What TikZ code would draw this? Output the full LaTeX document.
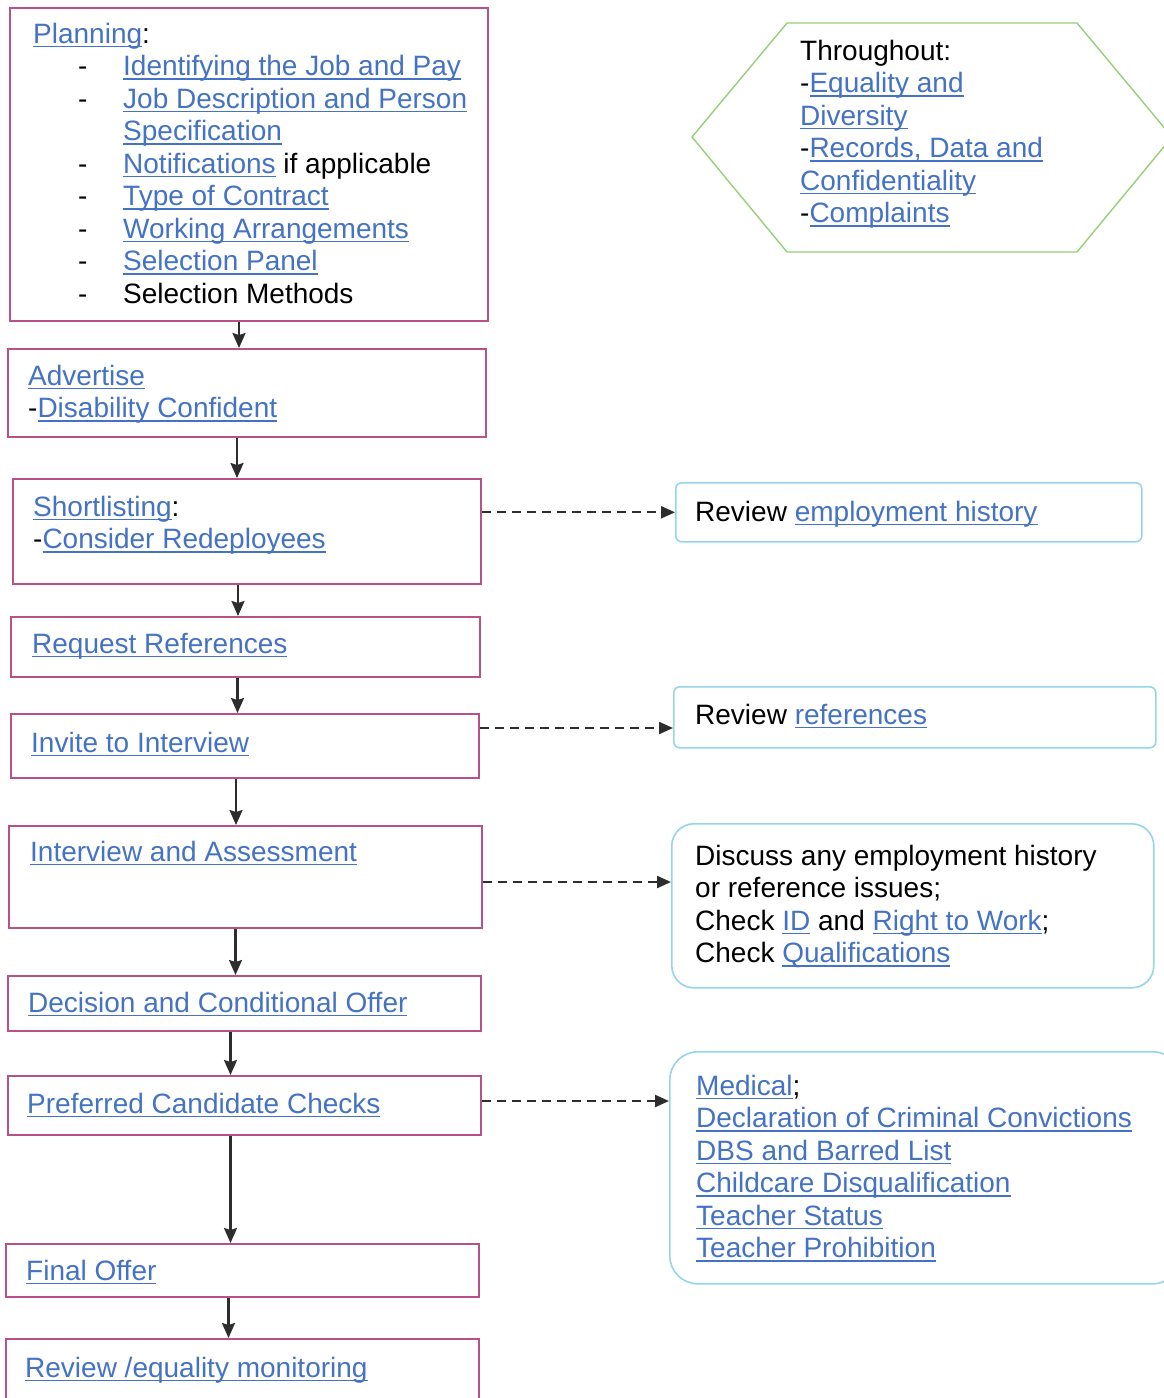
\documentclass[tikz,border=0pt]{standalone}
\usepackage{fontspec}
\setmainfont{Liberation Sans}
\usetikzlibrary{arrows.meta,positioning}

\definecolor{linkblue}{RGB}{68,114,196}
\definecolor{boxpink}{RGB}{185,80,135}
\definecolor{sideblue}{RGB}{150,212,236}
\definecolor{hexgreen}{RGB}{150,208,120}
\definecolor{arrowgrey}{RGB}{45,45,45}

\newcommand\weblink[1]{{\color{linkblue}\setbox0\hbox{#1}\rlap{\rule[-4pt]{\wd0}{1.5pt}}\box0}}
\newcommand\dashitem{\hspace*{45pt}\makebox[45pt][l]{-}}

\tikzset{
  stepbox/.style={draw=boxpink, line width=2pt, inner sep=0pt, anchor=north west},
  sidebox/.style={draw=sideblue, line width=1.6pt, inner sep=0pt, anchor=north west},
  txt/.style={inner sep=0pt, anchor=base west, align=left, font=\fontsize{28}{32.5}\selectfont},
  flow/.style={-{Stealth[length=15pt,width=13pt,inset=2pt]}, line width=2.2pt, draw=arrowgrey},
  dashflow/.style={-{Triangle[length=14pt,width=12pt]}, line width=2.2pt, draw=arrowgrey, dash pattern=on 9pt off 6pt},
}

\begin{document}
\begin{tikzpicture}[x=1pt,y=-1pt]
\clip (0,0) rectangle (1164,1398);
\fill[white] (0,0) rectangle (1164,1398);

% left column
\node[stepbox, minimum width=478pt, minimum height=313pt] (plan) at (9,7) {};
\node[stepbox, minimum width=478pt, minimum height=88pt] (advert) at (7,348) {};
\node[stepbox, minimum width=468pt, minimum height=105pt] (short) at (12,478) {};
\node[stepbox, minimum width=469pt, minimum height=60pt] (reqref) at (10,616) {};
\node[stepbox, minimum width=468pt, minimum height=64pt] (invite) at (10,713) {};
\node[stepbox, minimum width=473pt, minimum height=102pt] (interview) at (8,825) {};
\node[stepbox, minimum width=473pt, minimum height=55pt] (decision) at (7,975) {};
\node[stepbox, minimum width=473pt, minimum height=59pt] (checks) at (7,1075) {};
\node[stepbox, minimum width=473pt, minimum height=53pt] (final) at (5,1243) {};
\node[stepbox, minimum width=473pt, minimum height=90pt] (monitor) at (5,1338) {};

% texts sit on the baseline of their last line
\node[txt] (plantxt) at (33,303) {\weblink{Planning}:\\
  \dashitem\weblink{Identifying the Job and Pay}\\
  \dashitem\weblink{Job Description and Person}\\
  \hspace*{90pt}\weblink{Specification}\\
  \dashitem\weblink{Notifications} if applicable\\
  \dashitem\weblink{Type of Contract}\\
  \dashitem\weblink{Working Arrangements}\\
  \dashitem\weblink{Selection Panel}\\
  \dashitem Selection Methods};
\node[txt] (advtxt) at (28,417.5) {\weblink{Advertise}\\ -\weblink{Disability Confident}};
\node[txt] (shorttxt) at (33,548.5) {\weblink{Shortlisting}:\\ -\weblink{Consider Redeployees}};
\node[txt] (reqtxt) at (32,653) {\weblink{Request References}};
\node[txt] (invtxt) at (31,752) {\weblink{Invite to Interview}};
\node[txt] (intvtxt) at (30,861) {\weblink{Interview and Assessment}};
\node[txt] (dectxt) at (28,1012) {\weblink{Decision and Conditional Offer}};
\node[txt] (chktxt) at (27,1113) {\weblink{Preferred Candidate Checks}};
\node[txt] (fintxt) at (26,1280) {\weblink{Final Offer}};
\node[txt] (montxt) at (25,1377) {\weblink{Review /equality monitoring}};

\foreach \a/\b/\s in {plan/advert/10, advert/short/10, short/reqref/9, reqref/invite/8,
    invite/interview/9, interview/decision/10, decision/checks/14, checks/final/14, final/monitor/14}{
  \coordinate (top) at ([xshift=-\s]\a.south);
  \draw[flow] (top) -- (top |- \b.north);
}

% right column
\draw[hexgreen, line width=1.4pt] (692,137) -- (787,23) -- (1077,23) -- (1172,137)
  -- (1077,252) -- (787,252) -- cycle;
\node[txt] (thrtxt) at (800,222.5) {Throughout:\\ -\weblink{Equality and}\\ \weblink{Diversity}\\
  -\weblink{Records, Data and}\\ \weblink{Confidentiality}\\ -\weblink{Complaints}};

\node[sidebox, rounded corners=6pt, minimum width=466pt, minimum height=59pt] (emp) at (675,482) {};
\node[sidebox, rounded corners=6pt, minimum width=482pt, minimum height=61pt] (refs) at (673,686) {};
\node[sidebox, rounded corners=22pt, minimum width=482pt, minimum height=164pt] (discuss) at (671,823) {};
\node[sidebox, rounded corners=28pt, minimum width=511pt, minimum height=232pt] (medical) at (669,1051) {};

\node[txt] (emptxt) at (695,521) {Review \weblink{employment history}};
\node[txt] (refstxt) at (695,724) {Review \weblink{references}};
\node[txt] (distxt) at (695,962.5) {Discuss any employment history\\ or reference issues;\\
  Check \weblink{ID} and \weblink{Right to Work};\\ Check \weblink{Qualifications}};
\node[txt] (medtxt) at (696,1257.5) {\weblink{Medical};\\ \weblink{Declaration of Criminal Convictions}\\
  \weblink{DBS and Barred List}\\ \weblink{Childcare Disqualification}\\
  \weblink{Teacher Status}\\ \weblink{Teacher Prohibition}};

% side checks
\draw[dashflow] (short.east |- emp.west) -- (emp.west);
\coordinate (i1) at ([yshift=18]invite.east);
\draw[dashflow] (i1) -- (i1 -| refs.west);
\coordinate (i2) at ([yshift=-5]interview.east);
\draw[dashflow] (i2) -- (i2 -| discuss.west);
\coordinate (i3) at ([yshift=4.5]checks.east);
\draw[dashflow] (i3) -- (i3 -| medical.west);
\end{tikzpicture}
\end{document}
